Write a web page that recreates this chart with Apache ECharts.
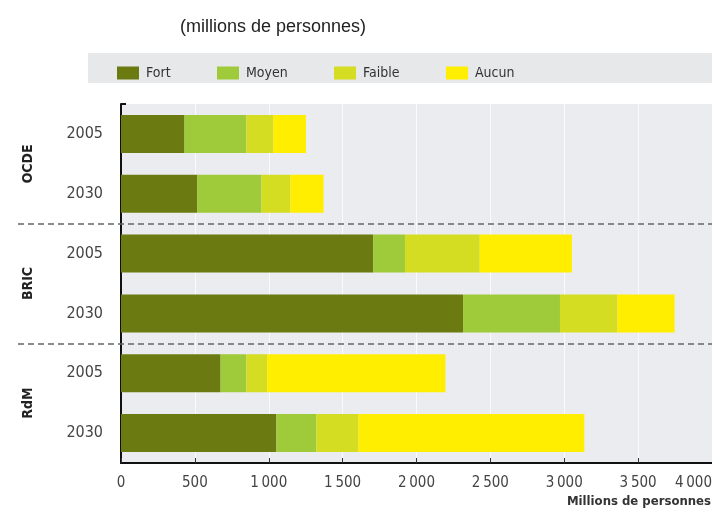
<!DOCTYPE html>
<html><head><meta charset="utf-8">
<script src="https://cdn.jsdelivr.net/npm/echarts@6/dist/echarts.min.js"></script>
<style>html,body{margin:0;padding:0;background:#fff}#c{width:712px;height:513px}</style>
</head><body><div id="c"></div>
<script>
var groups = ['OCDE', 'BRIC', 'RdM'];
var years = ['2005', '2030', '2005', '2030', '2005', '2030'];
var seriesNames = ['Fort', 'Moyen', 'Faible', 'Aucun'];
var fort   = [430, 517, 1708, 2315, 674, 1052];
var moyen  = [418, 434, 214, 656, 174, 270];
var faible = [182, 195, 506, 389, 141, 285];
var aucun  = [222, 225, 624, 387, 1207, 1529];
var xTicks = [0, 500, 1000, 1500, 2000, 2500, 3000, 3500, 4000];

var colors = ['#6b7b12', '#9fca3a', '#d5dd22', '#ffee00'];
var values = [fort, moyen, faible, aucun];
var NARROW = "'Liberation Sans Narrow', 'DejaVu Sans Condensed', sans-serif";

var cats = years.map(function (y, i) { return groups[Math.floor(i / 2)] + ' ' + y; });

var chart = echarts.init(document.getElementById('c'), null, {renderer: 'canvas'});
var legendX = [112, 212, 329, 441];
var option = {
  animation: false,
  title: {
    text: '(millions de personnes)', left: 268, top: 13, textAlign: 'center',
    textStyle: {fontFamily: "'Liberation Sans', Arial, sans-serif", fontSize: 18, fontWeight: 'normal', color: '#222'}
  },
  graphic: [
    {type: 'rect', left: 88, top: 53, shape: {width: 624, height: 30}, style: {fill: '#e7e8ea'}, z: -1, silent: true},
    {type: 'text', right: 1, top: 495, style: {text: 'Millions de personnes', font: 'bold 13px ' + NARROW, fill: '#333'}}
  ],
  legend: seriesNames.map(function (n, i) {
    return {
      data: [n], left: legendX[i], top: 61, itemWidth: 22, itemHeight: 13, itemGap: 0,
      textStyle: {fontFamily: NARROW, fontSize: 14, color: '#333', padding: [0, 0, 0, 2]},
      icon: 'rect', selectedMode: false
    };
  }),
  grid: [
    {left: 121, right: 0, top: 104, bottom: 50, show: true, backgroundColor: '#ebecef', borderWidth: 0, outerBoundsMode: 'none', containLabel: false},
    {left: 18, right: 0, top: 104, bottom: 50, show: false, outerBoundsMode: 'none', containLabel: false}
  ],
  xAxis: [
    {
      type: 'value', gridIndex: 0, min: 0, max: 4000, interval: 500,
      axisLine: {show: true, lineStyle: {color: '#111', width: 2}},
      axisTick: {show: true, inside: true, length: 5, lineStyle: {color: '#333'}},
      splitLine: {show: true, lineStyle: {color: '#fafafa', width: 1}},
      axisLabel: {
        margin: 13, fontFamily: NARROW, fontSize: 15, color: '#444', alignMaxLabel: 'right',
        formatter: function (v) { return xTicks.indexOf(v) >= 0 ? String(v).replace(/\B(?=(\d{3})+(?!\d))/g, '\u2009') : ''; }
      }
    },
    {type: 'value', gridIndex: 1, min: 0, max: 1, show: false}
  ],
  yAxis: [
    {
      type: 'category', gridIndex: 0, data: cats, inverse: true,
      axisLine: {show: true, lineStyle: {color: '#111', width: 2}},
      axisTick: {show: true, inside: true, length: 5, lineStyle: {color: '#111', width: 2},
        interval: function (i) { return i === 0; }},
      splitLine: {show: false},
      axisLabel: {
        margin: 18, fontFamily: NARROW, fontSize: 16, color: '#444',
        formatter: function (v) { return v.split(' ')[1]; }
      }
    },
    {
      type: 'category', gridIndex: 1, data: groups, inverse: true, z: 5,
      axisLine: {show: false}, axisTick: {show: false},
      splitLine: {show: true, interval: 0,
        lineStyle: {color: ['rgba(0,0,0,0)', '#666', '#666', 'rgba(0,0,0,0)'], type: [6, 4], width: 1.5}},
      axisLabel: {inside: true, margin: 3, rotate: 90, fontFamily: NARROW, fontSize: 14, fontWeight: 'bold', color: '#222'}
    }
  ],
  series: seriesNames.map(function (n, i) {
    return {
      name: n, type: 'bar', stack: 'total', xAxisIndex: 0, yAxisIndex: 0,
      barWidth: 38, data: values[i], itemStyle: {color: colors[i]}
    };
  })
};
chart.setOption(option);
</script></body></html>
